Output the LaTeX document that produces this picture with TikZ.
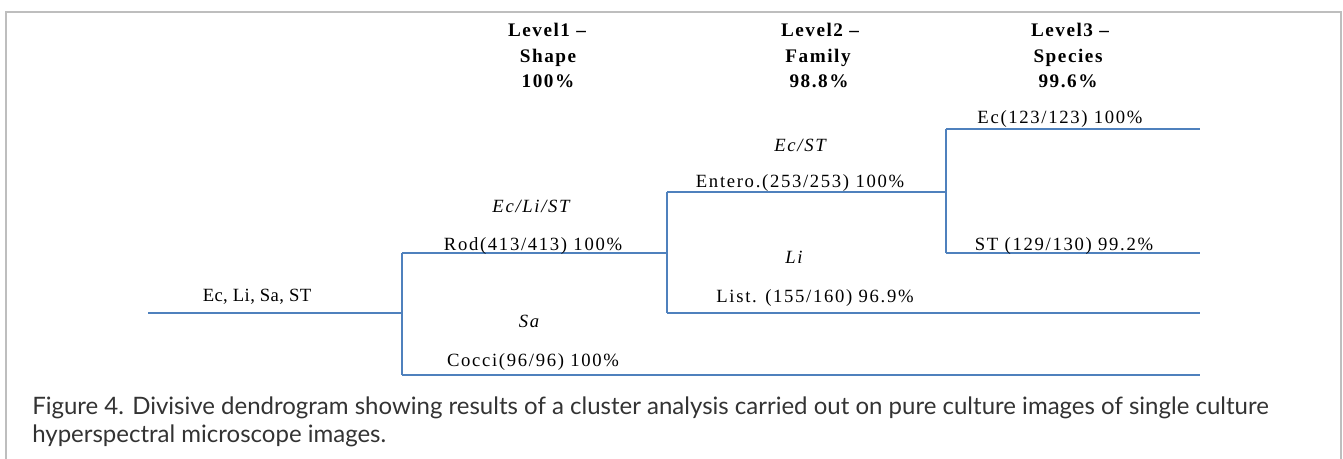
\documentclass[tikz,border=0pt]{standalone}
\usepackage{fontspec}
\setmainfont{Liberation Serif}
\newfontfamily\dfont[LetterSpace=9]{Liberation Serif}
\newfontfamily\dfontn[LetterSpace=2]{Liberation Serif}
\newfontfamily\hfont[LetterSpace=8]{Liberation Serif}
\newfontfamily\capfont{Lato}
\definecolor{dblue}{RGB}{79,129,189}
\definecolor{framegray}{RGB}{190,190,190}
\definecolor{captext}{RGB}{51,51,51}
\begin{document}
\begin{tikzpicture}[x=0.75pt,y=-0.75pt,
  lab/.style={anchor=base,inner sep=0pt,font=\dfont\fontsize{14}{16}\selectfont},
  labn/.style={anchor=base,inner sep=0pt,font=\dfontn\fontsize{14}{16}\selectfont},
  ital/.style={anchor=base,inner sep=0pt,font=\dfont\itshape\fontsize{14}{16}\selectfont},
  head/.style={anchor=base,inner sep=0pt,font=\hfont\bfseries\fontsize{14.4}{17}\selectfont},
  captxt/.style={anchor=base west,inner sep=0pt,text=captext,font=\capfont\fontsize{18}{22}\selectfont},
  branch/.style={draw=dblue,line width=1pt},
]
\useasboundingbox (0,0) rectangle (1343,459);
\draw[framegray,line width=0.8pt] (6,459) -- (6,12) -- (1341,12) -- (1341,459);

% headers
\node[head] (h1a) at (547,36.5) {Level1 –};
\node[head] (h1b) at (548,63) {Shape};
\node[head] (h1c) at (548,88) {100\%};
\node[head] (h2a) at (820,36.5) {Level2 –};
\node[head] (h2b) at (818,63) {Family};
\node[head] (h2c) at (819,88) {98.8\%};
\node[head] (h3a) at (1070,36.5) {Level3 –};
\node[head] (h3b) at (1068,63) {Species};
\node[head] (h3c) at (1068,88) {99.6\%};

% tree coordinates
\coordinate (root) at (148,313);
\coordinate (j1) at (402,313);
\coordinate (rodL) at (402,253);
\coordinate (cocL) at (402,375);
\coordinate (cocR) at (1200,375);
\coordinate (j2) at (667,253);
\coordinate (entL) at (667,192);
\coordinate (lisL) at (667,313);
\coordinate (lisR) at (1200,313);
\coordinate (j3) at (946,192);
\coordinate (ecL) at (946,129);
\coordinate (stL) at (946,253);
\coordinate (ecR) at (1200,129);
\coordinate (stR) at (1200,253);

\draw[branch] (root) -- (j1);
\draw[branch] (rodL) -- (cocL);
\draw[branch] (cocL) -- (cocR);
\draw[branch] (rodL) -- (j2);
\draw[branch] (entL) -- (lisL);
\draw[branch] (lisL) -- (lisR);
\draw[branch] (entL) -- (j3);
\draw[branch] (ecL) -- (stL);
\draw[branch] (ecL) -- (ecR);
\draw[branch] (stL) -- (stR);

% labels
\node[labn] (all) at (257,302) {Ec, Li, Sa, ST};
\node[ital] (rodsp) at (531,213) {Ec/Li/ST};
\node[lab] (rod) at (533,251) {Rod(413/413) 100\%};
\node[ital] (sasp) at (529,328) {Sa};
\node[lab] (cocci) at (533,367) {Cocci(96/96) 100\%};
\node[ital] (entsp) at (800,152) {Ec/ST};
\node[lab] (entero) at (800,188) {Entero.(253/253) 100\%};
\node[ital] (lisp) at (794,264) {Li};
\node[lab] (list) at (815,303) {List. (155/160) 96.9\%};
\node[lab] (ec) at (1060,124) {Ec(123/123) 100\%};
\node[lab] (st) at (1064,251) {ST (129/130) 99.2\%};

% caption
\node[captxt] (cap1) at (32,415) {Figure 4. Divisive dendrogram showing results of a cluster analysis carried out on pure culture images of single culture};
\node[captxt] (cap2) at (32,443) {hyperspectral microscope images.};
\end{tikzpicture}
\end{document}
